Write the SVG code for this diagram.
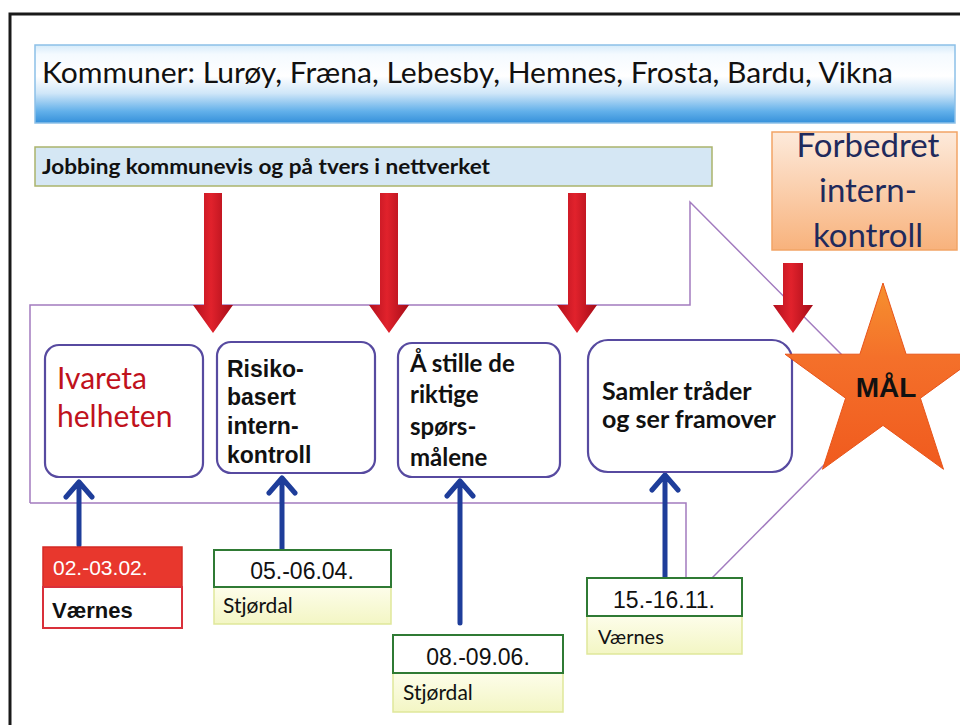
<svg xmlns="http://www.w3.org/2000/svg" width="960" height="725" viewBox="0 0 960 725">
<defs>
<style>
.cal{font-family:Lato,"Open Sans","Liberation Sans",sans-serif}
.ari{font-family:"Liberation Sans",Arial,sans-serif}
.node{fill:#fff;stroke:#574aa0;stroke-width:2.2}
.pl{fill:none;stroke:#a27bbf;stroke-width:1.5}
.blue{stroke:#1e3d9a;stroke-width:5;fill:none;stroke-linecap:round;stroke-linejoin:round}
.red{fill:url(#rg)}
.gtop{fill:#fff;stroke:#2f7a34;stroke-width:2}
.gbot{fill:url(#yg);stroke:#dfe79a;stroke-width:1.5}
</style>
<linearGradient id="bg" x1="0" y1="0" x2="0" y2="1">
<stop offset="0" stop-color="#d6ebfa"/><stop offset="0.12" stop-color="#f4faff"/><stop offset="0.4" stop-color="#ffffff"/><stop offset="0.62" stop-color="#cfe6f8"/><stop offset="0.85" stop-color="#62b0ea"/><stop offset="1" stop-color="#3590da"/>
</linearGradient>
<linearGradient id="og" x1="0" y1="0" x2="0" y2="1">
<stop offset="0" stop-color="#fdeadb"/><stop offset="1" stop-color="#f8b27c"/>
</linearGradient>
<linearGradient id="yg" x1="0" y1="0" x2="0" y2="1">
<stop offset="0" stop-color="#fdfdea"/><stop offset="1" stop-color="#f3f6c4"/>
</linearGradient>
<linearGradient id="rg" x1="0" y1="0" x2="1" y2="0">
<stop offset="0" stop-color="#b3101e"/><stop offset="0.45" stop-color="#e1222c"/><stop offset="1" stop-color="#a50c18"/>
</linearGradient>
<linearGradient id="sg" x1="0" y1="0" x2="0" y2="1">
<stop offset="0" stop-color="#f6912f"/><stop offset="0.4" stop-color="#f4702a"/><stop offset="1" stop-color="#f05a1e"/>
</linearGradient>
</defs>
<rect width="960" height="725" fill="#fff"/>
<path d="M10 725 V14 H960" fill="none" stroke="#1a1a1a" stroke-width="3"/>

<g id="connectors">
<path class="pl" d="M30 503 V305 H690 V202 L842 355"/>
<path class="pl" d="M30 503 H686 V578"/>
<path class="pl" d="M712 578 L827 462"/>
<path class="red" d="M204 193 H222 V305 H233 L213 333 L193 305 H204 Z"/>
<path class="red" d="M380 193 H398 V305 H409 L389 333 L369 305 H380 Z"/>
<path class="red" d="M568 193 H586 V305 H597 L577 333 L557 305 H568 Z"/>
<path class="red" d="M783 263 H803 V305 H813 L793 333 L773 305 H783 Z"/>
<path class="blue" d="M79 545 V482 M66 497 L79 482 L92 497"/>
<path class="blue" d="M282 550 V478 M269 493 L282 478 L295 493"/>
<path class="blue" d="M460 623 V481 M447 496 L460 481 L473 496"/>
<path class="blue" d="M665 578 V475 M652 490 L665 475 L678 490"/>
</g>

<g id="banner">
<rect x="35" y="45" width="920" height="78" fill="url(#bg)" stroke="#8cc0e8" stroke-width="1.5"/>
<text class="cal" x="42" y="83" font-size="29" fill="#111" textLength="851" lengthAdjust="spacingAndGlyphs">Kommuner: Lurøy, Fræna, Lebesby, Hemnes, Frosta, Bardu, Vikna</text>
</g>

<g id="jobbing">
<rect x="35" y="147" width="677" height="39" fill="#d5e7f4" stroke="#aab46c" stroke-width="1.5"/>
<text class="cal" x="42" y="174" font-size="20" font-weight="bold" fill="#111" textLength="448" lengthAdjust="spacingAndGlyphs">Jobbing kommunevis og på tvers i nettverket</text>
</g>

<g id="forbedret">
<rect x="772" y="132" width="185" height="118" fill="url(#og)" stroke="#f2a466" stroke-width="1.5"/>
<text class="cal" font-size="33" fill="#1f2a5c" text-anchor="middle"><tspan x="868" y="157">Forbedret</tspan><tspan x="868" y="202">intern-</tspan><tspan x="868" y="247">kontroll</tspan></text>
</g>

<g id="n1">
<rect class="node" x="45" y="345" width="158" height="132" rx="14"/>
<text class="cal" font-size="30" fill="#c0121c"><tspan x="57" y="389">Ivareta</tspan><tspan x="57" y="427">helheten</tspan></text>
</g>

<g id="n2">
<rect class="node" x="217" y="342" width="158" height="131" rx="14"/>
<text class="ari" font-size="23" font-weight="bold" fill="#111"><tspan x="227" y="377">Risiko-</tspan><tspan x="227" y="405">basert</tspan><tspan x="227" y="434">intern-</tspan><tspan x="227" y="463">kontroll</tspan></text>
</g>

<g id="n3">
<rect class="node" x="398" y="343" width="162" height="134" rx="14"/>
<text class="cal" font-size="24" font-weight="bold" fill="#111"><tspan x="410" y="372">Å stille de</tspan><tspan x="410" y="403">riktige</tspan><tspan x="410" y="435">spørs-</tspan><tspan x="410" y="466">målene</tspan></text>
</g>

<g id="n4">
<rect class="node" x="588" y="340" width="204" height="132" rx="20"/>
<text class="cal" font-size="25" font-weight="bold" fill="#111"><tspan x="602" y="400">Samler tråder</tspan><tspan x="602" y="428">og ser framover</tspan></text>
</g>

<g id="mal">
<polygon points="883,283 906.1,354.2 981,354.2 920.4,398.2 943.5,469.3 883,425.4 822.5,469.3 845.6,398.2 785,354.2 859.9,354.2" fill="url(#sg)" stroke="#e8541a" stroke-width="1"/>
<text class="ari" x="886" y="397" font-size="28" font-weight="bold" fill="#111" text-anchor="middle">MÅL</text>
</g>

<g id="d1">
<rect x="43" y="547" width="139" height="40" fill="#e8372d" stroke="#d42a24" stroke-width="1.5"/>
<rect x="43" y="587" width="139" height="41" fill="#fff" stroke="#d9303a" stroke-width="2"/>
<text class="ari" x="53" y="575" font-size="21" fill="#fff">02.-03.02.</text>
<text class="ari" x="52" y="618" font-size="22" font-weight="bold" fill="#111">Værnes</text>
</g>

<g id="d2">
<rect class="gbot" x="214" y="587" width="177" height="37"/>
<rect class="gtop" x="214" y="550" width="177" height="37"/>
<text class="ari" x="302" y="579" font-size="23" fill="#111" text-anchor="middle">05.-06.04.</text>
<text class="cal" x="223" y="613" font-size="21" fill="#111">Stjørdal</text>
</g>

<g id="d3">
<rect class="gbot" x="393" y="673" width="170" height="39"/>
<rect class="gtop" x="393" y="635" width="170" height="38"/>
<text class="ari" x="478" y="665" font-size="23" fill="#111" text-anchor="middle">08.-09.06.</text>
<text class="cal" x="403" y="700" font-size="21" fill="#111">Stjørdal</text>
</g>

<g id="d4">
<rect class="gbot" x="587" y="616" width="155" height="38"/>
<rect class="gtop" x="587" y="578" width="155" height="38"/>
<text class="ari" x="664" y="608" font-size="23" fill="#111" text-anchor="middle">15.-16.11.</text>
<text class="cal" x="598" y="644" font-size="20" fill="#111">Værnes</text>
</g>
</svg>
